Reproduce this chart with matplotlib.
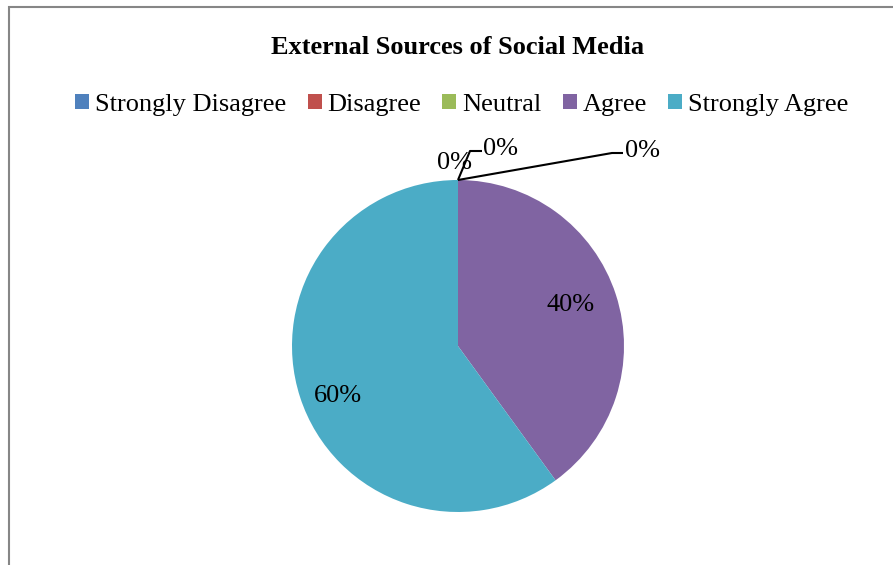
import matplotlib
matplotlib.use("Agg")
import matplotlib.pyplot as plt
import numpy as np
from matplotlib.patches import Rectangle, Patch

categories = ["Strongly Disagree", "Disagree", "Neutral", "Agree", "Strongly Agree"]
values = [0, 0, 0, 40, 60]
colors = ["#4F81BD", "#C0504D", "#9BBB59", "#8064A2", "#4BACC6"]
title = "External Sources of Social Media"

W, H = 893, 565
fig = plt.figure(figsize=(W / 100, H / 100), dpi=100)
plt.rcParams['font.family'] = ['Liberation Serif', 'DejaVu Serif']

ax = fig.add_axes([0, 0, 1, 1])
cx, cy, r = 458, H - 346, 166
wedges, _ = ax.pie(values, colors=colors, startangle=90, counterclock=False,
                   center=(cx, cy), radius=r, frame=True,
                   wedgeprops=dict(linewidth=0))
ax.set_xlim(0, W)
ax.set_ylim(0, H)
ax.set_aspect('auto')
ax.axis('off')

total = sum(values)
fs = 19
# label layout per slice (positions only)
label_layout = [
    dict(text=(455, H - 163), line=None),
    dict(text=(501, H - 149), line=[(0, 0), (12, 29), (24, 29)]),
    dict(text=(643, H - 151), line=[(0, 0), (154, 27), (165, 27)]),
    dict(text=(571, H - 305), line=None),
    dict(text=(338, H - 396), line=None),
]
for w, v, lay in zip(wedges, values, label_layout):
    pct = f"{round(100 * v / total)}%"
    if lay["line"] is not None:
        ang = np.deg2rad(w.theta1)
        px, py = cx + r * np.cos(ang), cy + r * np.sin(ang)
        xs = [px + d[0] for d in lay["line"]]
        ys = [py + d[1] for d in lay["line"]]
        ax.plot(xs, ys, color="black", lw=1.5, solid_capstyle='butt')
    ax.text(*lay["text"], pct, ha='center', va='center', fontsize=fs)

fig.text(458 / W, 1 - 48 / H, title, ha='center', va='center',
         fontsize=19, fontweight='bold')

handles = [Patch(facecolor=c, edgecolor='none') for c in colors]
leg = fig.legend(handles, categories, loc='center', bbox_to_anchor=(462 / W, 1 - 105 / H),
                 ncol=5, frameon=False, fontsize=fs, handlelength=0.53, handleheight=0.53,
                 handletextpad=0.23, columnspacing=0.8, borderaxespad=0, borderpad=0)

fig.patches.append(Rectangle((8.5 / W, -0.1), 1.2, (1 - 7 / H) + 0.1, transform=fig.transFigure,
                             fill=False, edgecolor="#868686", lw=1.5))

fig.savefig("out.png", dpi=100)
